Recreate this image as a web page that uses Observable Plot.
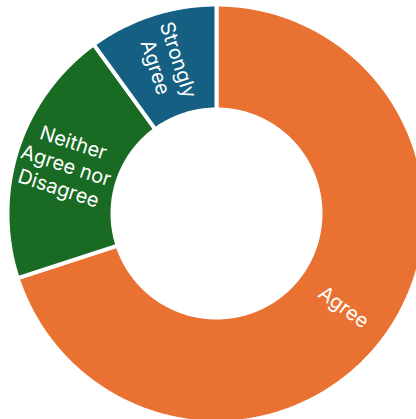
<!DOCTYPE html>
<html>
<head>
<meta charset="utf-8">
<script src="https://cdn.jsdelivr.net/npm/d3@7"></script>
<script src="https://cdn.jsdelivr.net/npm/@observablehq/plot@0.6"></script>
<style>
  html, body { margin: 0; padding: 0; background: #ffffff; overflow: hidden; }
</style>
</head>
<body>
<div id="chart"></div>
<script>
// Data (clockwise from 12 o'clock)
const categories = ["Agree", "Neither Agree nor Disagree", "Strongly Agree"];
const values = [70, 20, 10];
const labels = ["Agree", "Neither\nAgree nor\nDisagree", "Strongly\nAgree"];
const colors = ["#E97132", "#196B24", "#156082"];

// Geometry helpers (data space in px-like units, center at 0,0)
const W = 416, H = 419;
const cx = 216, cy = 213;
const R = 209, r0 = 104, rLabel = 158;

const total = d3.sum(values);
let acc = 0;
const slices = values.map((v, i) => {
  const a0 = acc / total * 360;
  acc += v;
  const a1 = acc / total * 360;
  return {cat: categories[i], label: labels[i], a0, a1, mid: (a0 + a1) / 2};
});

const rad = (deg) => deg * Math.PI / 180;
const pts = [];
for (const s of slices) {
  const n = Math.max(4, Math.ceil((s.a1 - s.a0) * 2));
  const ring = [];
  for (let k = 0; k <= n; k++) {
    const a = s.a0 + (s.a1 - s.a0) * k / n;
    ring.push({cat: s.cat, x: R * Math.sin(rad(a)), y: R * Math.cos(rad(a))});
  }
  for (let k = n; k >= 0; k--) {
    const a = s.a0 + (s.a1 - s.a0) * k / n;
    ring.push({cat: s.cat, x: r0 * Math.sin(rad(a)), y: r0 * Math.cos(rad(a))});
  }
  ring.push({...ring[0]});
  pts.push(...ring);
}

const textData = slices.map(s => {
  let rot = s.mid - 90;
  if (rot > 90) rot -= 180;
  return {
    text: s.label,
    x: rLabel * Math.sin(rad(s.mid)),
    y: rLabel * Math.cos(rad(s.mid)),
    rotate: rot
  };
});

const chart = Plot.plot({
  width: W,
  height: H,
  margin: 0,
  x: {domain: [-cx, W - cx], axis: null},
  y: {domain: [-(H - cy), cy], axis: null},
  color: {domain: categories, range: colors},
  style: {background: "#ffffff", fontFamily: "Inter, sans-serif"},
  marks: [
    Plot.line(pts, {x: "x", y: "y", z: "cat", fill: "cat", stroke: "#ffffff", strokeWidth: 4, strokeLinejoin: "miter", curve: "linear"}),
    Plot.text(textData, {x: "x", y: "y", text: "text", rotate: "rotate", fill: "#ffffff", fontSize: 20, lineHeight: 1.2, fontFamily: "Inter, sans-serif"})
  ]
});
document.getElementById("chart").appendChild(chart);
</script>
</body>
</html>
